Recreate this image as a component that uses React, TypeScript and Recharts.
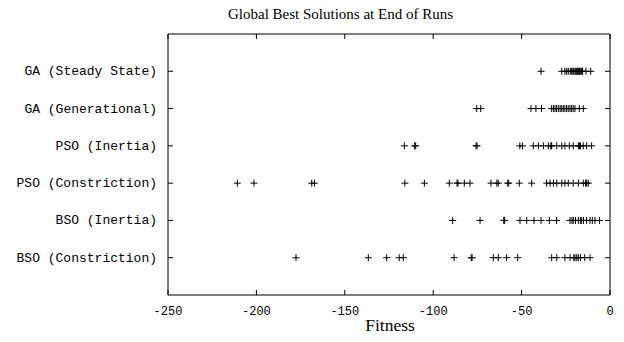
import { ScatterChart, Scatter, XAxis, YAxis, ReferenceLine } from "recharts";

const algorithms = [
  "GA (Steady State)",
  "GA (Generational)",
  "PSO (Inertia)",
  "PSO (Constriction)",
  "BSO (Inertia)",
  "BSO (Constriction)",
];

const gaSteady = [-39, -27.3, -25.5, -24.5, -23.6, -22.5, -21.7, -21, -20.5, -19.8, -19.3, -18.8, -18.3, -17.9, -17.4, -17, -16.5, -16, -15.5, -13.6, -10.9];
const gaGenerational = [-75.4, -73.1, -44.7, -41.9, -38.7, -33, -32, -31.1, -30.2, -29.2, -28.2, -27.3, -26.4, -25.5, -24.5, -23.6, -22.6, -21.7, -20.8, -19.8, -17.4, -15.1];
const psoInertia = [-116.3, -110.5, -109.9, -75.8, -75.2, -51, -49.5, -43.4, -40.5, -37.7, -34.9, -33.5, -33, -30.1, -27.3, -25.5, -23, -20.8, -17.9, -17.3, -16.7, -15.1, -13.2, -10.4];
const psoConstriction = [-210.8, -201.4, -168.7, -167.2, -116, -105, -90.9, -86.5, -86, -82.4, -79.2, -67.3, -64, -63.2, -57.8, -57.3, -51.3, -44.3, -35.8, -33.9, -32, -30.1, -27.3, -25.5, -23.6, -20.8, -17.9, -15.1, -13.8, -13.2, -12.3];
const bsoInertia = [-89, -73.5, -60.1, -59.6, -50.9, -47.1, -43, -39, -34.3, -30.2, -22.6, -21.5, -20.8, -19.5, -17.9, -16.8, -16, -15, -13.2, -11.3, -10, -8.5, -6];
const bsoConstriction = [-177.6, -136.7, -126.3, -119.2, -116.9, -88.2, -78.5, -78, -66, -63.2, -58.5, -52.2, -33, -30.1, -25.5, -22.6, -20.5, -19.8, -18.8, -17.9, -16.7, -14.3, -11.3];

const seriesValues = [gaSteady, gaGenerational, psoInertia, psoConstriction, bsoInertia, bsoConstriction];

const xTicks = [-250, -200, -150, -100, -50, 0];
const rowTicks = [1, 2, 3, 4, 5, 6];

const X_MIN = -250;
const X_MAX = 0;
const Y_MIN = 0;
const Y_MAX = 7;

const monoFont = "'Liberation Mono', 'DejaVu Sans Mono', monospace";
const serifFont = "'Liberation Serif', 'DejaVu Serif', serif";

// plot box is 442 x 261 px; inward tick marks ~5px long, in data units
const TICK = 5;
const xTickLen = (TICK / 261) * (Y_MAX - Y_MIN);
const yTickLen = (TICK / 442) * (X_MAX - X_MIN);

const Plus = (props: any) => {
  const { cx, cy } = props;
  const r = 3.5;
  return (
    <path
      d={`M${cx - r},${cy}H${cx + r}M${cx},${cy - r}V${cy + r}`}
      stroke="#000"
      strokeWidth={1}
      fill="none"
    />
  );
};

// mirrored axes hand the label position inside the plot; move it back outside
const BottomLabel = (props: any) => {
  const { x, y, payload } = props;
  return (
    <text x={x} y={y + TICK + 20} textAnchor="middle" fontFamily={monoFont} fontSize={12} fill="#000">
      {payload.value}
    </text>
  );
};

const LeftLabel = (props: any) => {
  const { x, y, payload } = props;
  return (
    <text x={x - TICK - 11} y={y + 4} textAnchor="end" fontFamily={monoFont} fontSize={13} fill="#000">
      {algorithms[payload.value - 1] ?? ""}
    </text>
  );
};

const NoLabel = () => <g />;

const allPoints = seriesValues.flatMap((values, i) => values.map((x) => ({ x, y: i + 1 })));

export default function App() {
  return (
    <div style={{ position: "absolute", left: 0, top: 0, width: 624, height: 342, background: "#fff" }}>
      <ScatterChart width={624} height={342} margin={{ top: 34, right: 14, bottom: 47, left: 168 }}>
        <text x={228} y={19} fontFamily={serifFont} fontSize={15} fill="#000">
          Global Best Solutions at End of Runs
        </text>
        <text x={390} y={331} textAnchor="middle" fontFamily={serifFont} fontSize={17.5} fill="#000">
          Fitness
        </text>
        <XAxis
          type="number"
          dataKey="x"
          domain={[X_MIN, X_MAX]}
          ticks={xTicks}
          mirror
          tickSize={TICK}
          tickMargin={0}
          tickLine={false}
          stroke="#000"
          tick={<BottomLabel />}
          allowDataOverflow
        />
        <XAxis
          xAxisId="top"
          orientation="top"
          type="number"
          dataKey="x"
          domain={[X_MIN, X_MAX]}
          ticks={xTicks}
          mirror
          tickLine={false}
          tick={<NoLabel />}
          stroke="#000"
          allowDataOverflow
        />
        <YAxis
          type="number"
          dataKey="y"
          domain={[Y_MIN, Y_MAX]}
          ticks={rowTicks}
          reversed
          mirror
          tickSize={TICK}
          tickMargin={0}
          tickLine={false}
          stroke="#000"
          tick={<LeftLabel />}
          allowDataOverflow
        />
        <YAxis
          yAxisId="right"
          orientation="right"
          type="number"
          dataKey="y"
          domain={[Y_MIN, Y_MAX]}
          ticks={rowTicks}
          reversed
          mirror
          tickLine={false}
          tick={<NoLabel />}
          stroke="#000"
          allowDataOverflow
        />
        {/* inward tick marks on all four sides of the frame */}
        {xTicks.map((t) => (
          <ReferenceLine
            key={`b${t}`}
            segment={[{ x: t, y: Y_MAX }, { x: t, y: Y_MAX - xTickLen }]}
            stroke="#000"
            ifOverflow="visible"
          />
        ))}
        {xTicks.map((t) => (
          <ReferenceLine
            key={`t${t}`}
            segment={[{ x: t, y: Y_MIN }, { x: t, y: Y_MIN + xTickLen }]}
            stroke="#000"
            ifOverflow="visible"
          />
        ))}
        {rowTicks.map((r) => (
          <ReferenceLine
            key={`l${r}`}
            segment={[{ x: X_MIN, y: r }, { x: X_MIN + yTickLen, y: r }]}
            stroke="#000"
            ifOverflow="visible"
          />
        ))}
        {rowTicks.map((r) => (
          <ReferenceLine
            key={`r${r}`}
            segment={[{ x: X_MAX, y: r }, { x: X_MAX - yTickLen, y: r }]}
            stroke="#000"
            ifOverflow="visible"
          />
        ))}
        {seriesValues.map((values, i) => (
          <Scatter
            key={algorithms[i]}
            name={algorithms[i]}
            data={values.map((x) => ({ x, y: i + 1 }))}
            shape={<Plus />}
            isAnimationActive={false}
          />
        ))}
        {/* same points bound to the top/right axes so those axes get their scale; not drawn */}
        <Scatter
          xAxisId="top"
          yAxisId="right"
          data={allPoints}
          shape={() => <g />}
          isAnimationActive={false}
        />
      </ScatterChart>
    </div>
  );
}
